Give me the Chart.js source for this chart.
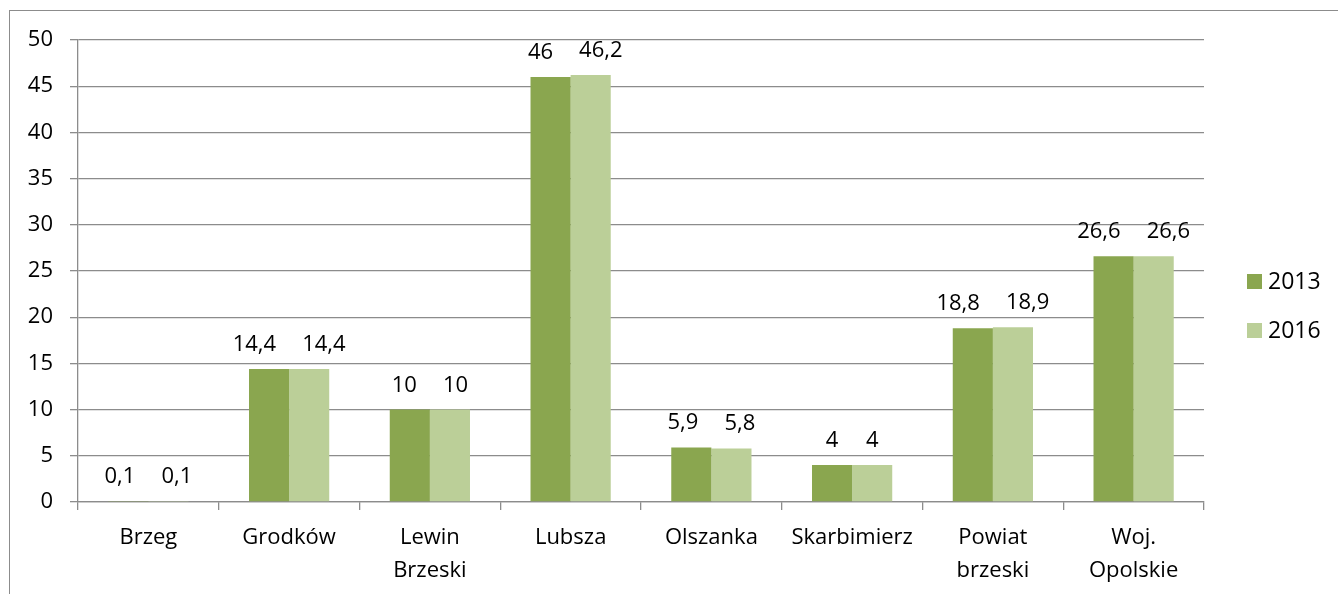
<!DOCTYPE html>
<html>
<head>
<meta charset="utf-8">
<script src="https://cdn.jsdelivr.net/npm/chart.js@4"></script>
<style>
  html, body { margin: 0; padding: 0; background: #fff; overflow: hidden; }
  #frame {
    position: absolute; left: 9px; top: 10px; width: 1400px; height: 700px;
    border-left: 1px solid #8c8c8c; border-top: 1px solid #8c8c8c;
  }
  #wrap { position: absolute; left: 0; top: 0; width: 1338px; height: 594px; }
</style>
</head>
<body>
<div id="frame"></div>
<div id="wrap"><canvas id="myChart"></canvas></div>
<script>
const categories = [
    'Brzeg', 'Grodków', ['Lewin', 'Brzeski'], 'Lubsza', 'Olszanka',
    'Skarbimierz', ['Powiat', 'brzeski'], ['Woj.', 'Opolskie']
];
const values2013 = [0.1, 14.4, 10, 46, 5.9, 4, 18.8, 26.6];
const values2016 = [0.1, 14.4, 10, 46.2, 5.8, 4, 18.9, 26.6];
const seriesNames = ['2013', '2016'];
const yTicks = [0, 5, 10, 15, 20, 25, 30, 35, 40, 45, 50];

const FONT = '"Open Sans", sans-serif';
const gridColor = '#8c8c8c';

// value labels above the bars, pushed apart a bit when they would collide
const valueLabels = {
    id: 'valueLabels',
    afterDatasetsDraw(chart) {
        const ctx = chart.ctx;
        ctx.save();
        ctx.font = '22px ' + FONT;
        ctx.fillStyle = '#000';
        ctx.textAlign = 'center';
        ctx.textBaseline = 'alphabetic';
        const m0 = chart.getDatasetMeta(0);
        const m1 = chart.getDatasetMeta(1);
        const fmt = v => String(v).replace('.', ',');
        m0.data.forEach((bar0, i) => {
            const bar1 = m1.data[i];
            const t0 = fmt(chart.data.datasets[0].data[i]);
            const t1 = fmt(chart.data.datasets[1].data[i]);
            const w0 = ctx.measureText(t0).width;
            const w1 = ctx.measureText(t1).width;
            let x0 = bar0.x, x1 = bar1.x;
            const need = (w0 + w1) / 2 + 26;
            if (x1 - x0 < need) {
                const push = (need - (x1 - x0)) / 2;
                x0 -= push;
                x1 += push;
            }
            ctx.fillText(t0, x0, bar0.y - 18);
            ctx.fillText(t1, x1, bar1.y - 18);
        });
        ctx.restore();
    }
};

const sideLegend = {
    id: 'sideLegend',
    afterDraw(chart) {
        const ctx = chart.ctx;
        ctx.save();
        ctx.font = '23px ' + FONT;
        ctx.textBaseline = 'middle';
        ctx.textAlign = 'left';
        chart.data.datasets.forEach((ds, i) => {
            const y = 274 + i * 49;
            ctx.fillStyle = ds.backgroundColor;
            ctx.fillRect(1247, y, 15, 15);
            ctx.fillStyle = '#000';
            ctx.fillText(ds.label, 1268, y + 8);
        });
        ctx.restore();
    }
};

const ctx = document.getElementById('myChart');

new Chart(ctx, {
    type: 'bar',
    data: {
        labels: categories,
        datasets: [{
            label: seriesNames[0],
            data: values2013,
            backgroundColor: '#8aa64f'
        }, {
            label: seriesNames[1],
            data: values2016,
            backgroundColor: '#bbcf98'
        }]
    },
    options: {
        responsive: true,
        maintainAspectRatio: false,
        animation: false,
        layout: {
            padding: { left: 0, top: 40, right: 134, bottom: 0 }
        },
        datasets: {
            bar: {
                categoryPercentage: 0.57,
                barPercentage: 1
            }
        },
        scales: {
            x: {
                offset: true,
                grid: {
                    offset: true,
                    drawOnChartArea: false,
                    drawTicks: true,
                    tickLength: 8,
                    color: gridColor,
                    lineWidth: 1.3
                },
                border: { display: true, color: gridColor, width: 1.3 },
                ticks: {
                    color: '#000',
                    font: { family: FONT, size: 22, lineHeight: 1.5 },
                    padding: 11,
                    maxRotation: 0,
                    autoSkip: false
                },
                afterFit(scale) { scale.height = 92; }
            },
            y: {
                min: 0,
                max: 50,
                afterBuildTicks(scale) {
                    scale.ticks = yTicks.map(v => ({ value: v }));
                },
                grid: {
                    color: gridColor,
                    lineWidth: 1.3,
                    drawTicks: true,
                    tickLength: 8
                },
                border: { display: true, color: gridColor, width: 1.3 },
                ticks: {
                    color: '#000',
                    font: { family: FONT, size: 22 },
                    padding: 17
                },
                afterFit(scale) { scale.width = 78; }
            }
        },
        plugins: {
            legend: { display: false },
            tooltip: { enabled: false }
        }
    },
    plugins: [valueLabels, sideLegend]
});
</script>
</body>
</html>
